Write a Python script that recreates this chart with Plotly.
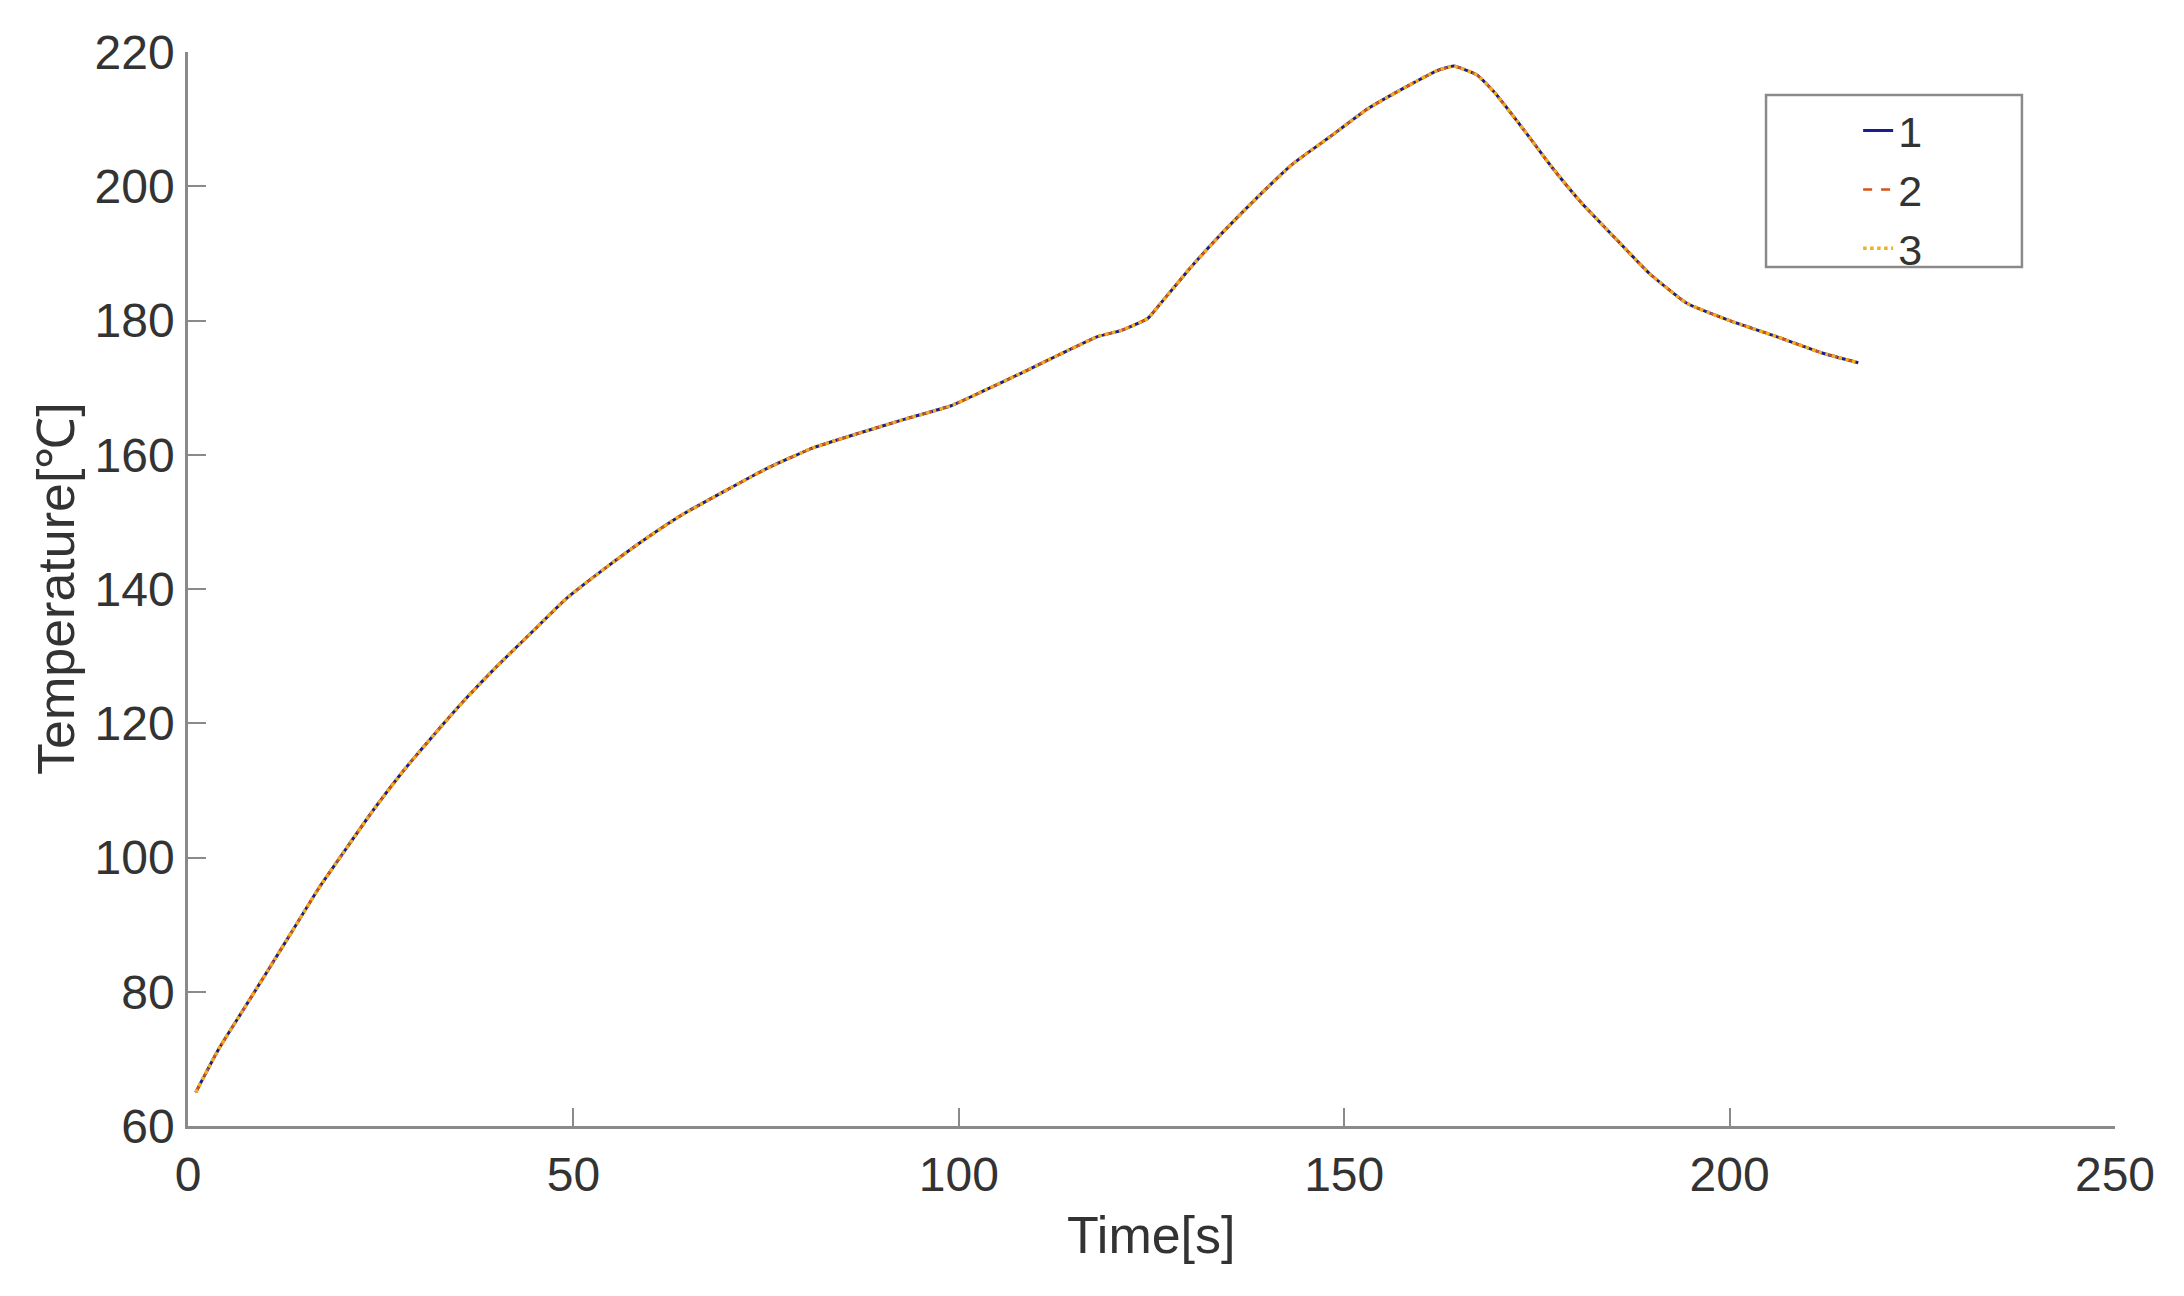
import plotly.graph_objs as go

# Values
time_s = [1, 4, 7, 10, 13.5, 17, 20.5, 24, 28, 32, 36, 40, 45, 49, 54, 59, 64,
          69.5, 75, 81, 87, 93, 99, 103, 108, 113, 118, 121, 124.5, 126, 130,
          134.3, 138.6, 143.4, 148.2, 153, 158.5, 162, 164.2, 167.2, 169.4,
          173.3, 176.9, 180.8, 185.3, 189.6, 194.4, 200.2, 206.1, 211.9, 216.7]
temp_1 = [65.0, 71.5, 77.0, 82.5, 89.0, 95.5, 101.3, 107.0, 113.0, 118.4, 123.6,
          128.4, 134.0, 138.5, 143.0, 147.2, 151.0, 154.5, 157.9, 161.0, 163.2,
          165.3, 167.3, 169.4, 172.1, 174.9, 177.6, 178.5, 180.3, 182.3, 187.8,
          193.2, 198.2, 203.4, 207.4, 211.5, 215.1, 217.2, 217.9, 216.6, 214.1,
          208.4, 202.9, 197.5, 192.1, 187.0, 182.6, 179.9, 177.6, 175.2, 173.7]
# the three runs lie on top of each other in the picture
temp_2 = list(temp_1)
temp_3 = list(temp_1)

series_names = ['1', '2', '3']
series_colors = ['#1c1c8c', '#d95319', '#edb120']
series_dash = ['solid', 'dash', 'dot']
series_width = [3, 2.5, 3.5]

font_family = 'Liberation Sans, Arial, sans-serif'
axis_grey = '#8a8a8a'
text_grey = '#333333'

data = []
for name, ys, col, dash, w in zip(series_names, [temp_1, temp_2, temp_3],
                                  series_colors, series_dash, series_width):
    data.append(go.Scatter(x=time_s, y=ys, name=name, mode='lines',
                           line=dict(color=col, dash=dash, width=w, shape='spline',
                                     smoothing=0.4)))

axis_common = dict(showgrid=False, zeroline=False, showline=True, linecolor=axis_grey,
                   linewidth=2.5, ticks='inside', ticklen=18, tickwidth=2,
                   tickcolor=axis_grey, mirror=False,
                   tickfont=dict(family=font_family, size=48, color=text_grey))

title_font = dict(family=font_family, size=52, color=text_grey)

layout = go.Layout(
    width=2184, height=1296,
    paper_bgcolor='white', plot_bgcolor='white',
    margin=dict(l=180, r=77, t=44, b=178, autoexpand=False),
    xaxis=dict(axis_common, range=[0, 250], dtick=50, ticklabelstandoff=5),
    yaxis=dict(axis_common, range=[60, 220], dtick=20, ticklabelstandoff=1),
    annotations=[
        dict(text='Time[s]', xref='paper', yref='paper', x=0.5, y=0,
             xanchor='center', yanchor='middle', yshift=-109, showarrow=False,
             font=title_font),
        dict(text='Temperature[℃]', xref='paper', yref='paper', x=0, y=0.5,
             xanchor='center', yanchor='middle', xshift=-132, textangle=-90,
             showarrow=False, font=title_font),
    ],
    showlegend=True,
    legend=dict(x=0.8667, y=0.959, xanchor='left', yanchor='top',
                bgcolor='rgba(0,0,0,0)', borderwidth=0,
                font=dict(family=font_family, size=43, color=text_grey)),
    shapes=[dict(type='rect', xref='paper', yref='paper',
                 x0=0.8189, x1=0.9517, y0=0.7998, y1=0.96,
                 line=dict(color=axis_grey, width=2.5), fillcolor='white',
                 layer='below')],
)

fig = go.Figure(data=data, layout=layout)
fig.write_html('out.html')
